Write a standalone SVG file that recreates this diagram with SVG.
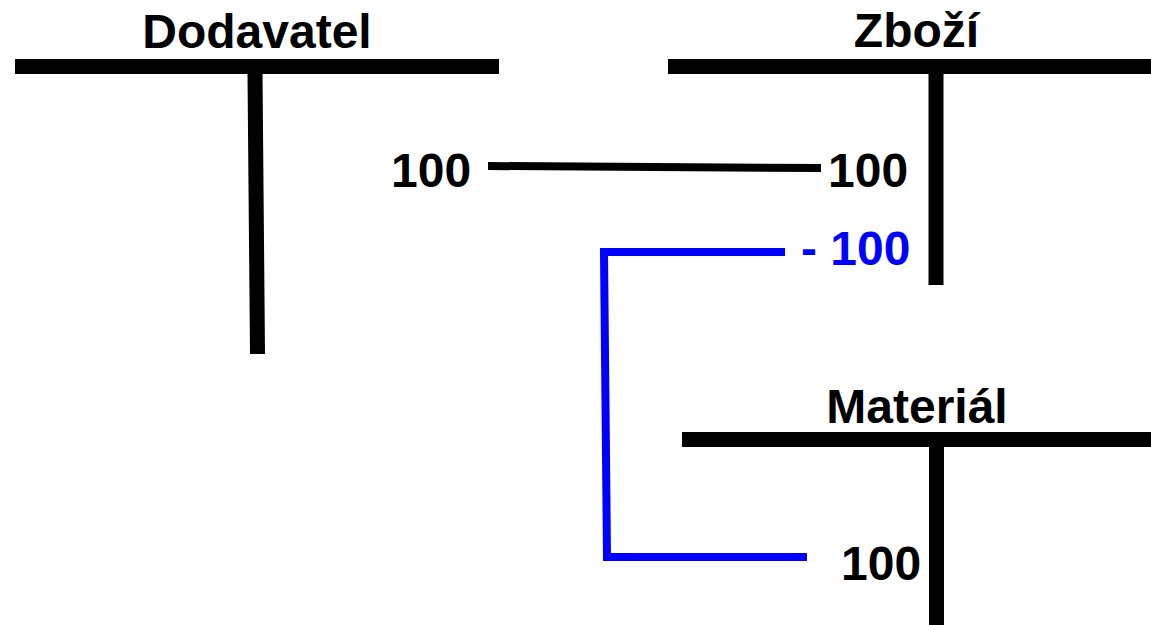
<svg xmlns="http://www.w3.org/2000/svg" width="1151" height="625" viewBox="0 0 1151 625">
  <style>
    .bar { stroke: #000; stroke-width: 15; fill: none; }
    .title { font-family: "Liberation Sans", Arial, sans-serif; font-weight: bold; font-size: 48px; fill: #000; text-anchor: middle; }
    .num { font-family: "Liberation Sans", Arial, sans-serif; font-weight: bold; font-size: 48px; fill: #000; }
    .neg { fill: #0000ff; }
    .link { stroke: #000; stroke-width: 8; fill: none; }
    .link-blue { stroke: #0000ff; stroke-width: 8; fill: none; }
  </style>
  <rect width="1151" height="625" fill="#fff"/>

  <!-- T-account: Dodavatel -->
  <g id="dodavatel">
    <text class="title" x="257" y="48">Dodavatel</text>
    <line class="bar" x1="15" y1="66.5" x2="499" y2="66.5"/>
    <line class="bar" x1="255" y1="74" x2="257.5" y2="354" stroke-width="16"/>
    <text class="num" x="391" y="187">100</text>
  </g>

  <!-- T-account: Zboží -->
  <g id="zbozi">
    <text class="title" x="916.5" y="47">Zboží</text>
    <line class="bar" x1="668" y1="66.5" x2="1151" y2="66.5"/>
    <line class="bar" x1="936" y1="74" x2="936" y2="285" stroke-width="16"/>
    <text class="num" x="828" y="187">100</text>
    <text class="num neg" x="801" y="265">- 100</text>
  </g>

  <!-- T-account: Materiál -->
  <g id="material">
    <text class="title" x="917" y="423">Materiál</text>
    <line class="bar" x1="682" y1="439.5" x2="1151" y2="439.5"/>
    <line class="bar" x1="936.5" y1="447" x2="936.5" y2="625" stroke-width="16"/>
    <text class="num" x="841" y="580">100</text>
  </g>

  <!-- Connectors between postings -->
  <g id="connectors">
    <line class="link" x1="488" y1="166" x2="821" y2="168"/>
    <polyline class="link-blue" points="785,252 604,252 607,557 807,557"/>
  </g>
</svg>
